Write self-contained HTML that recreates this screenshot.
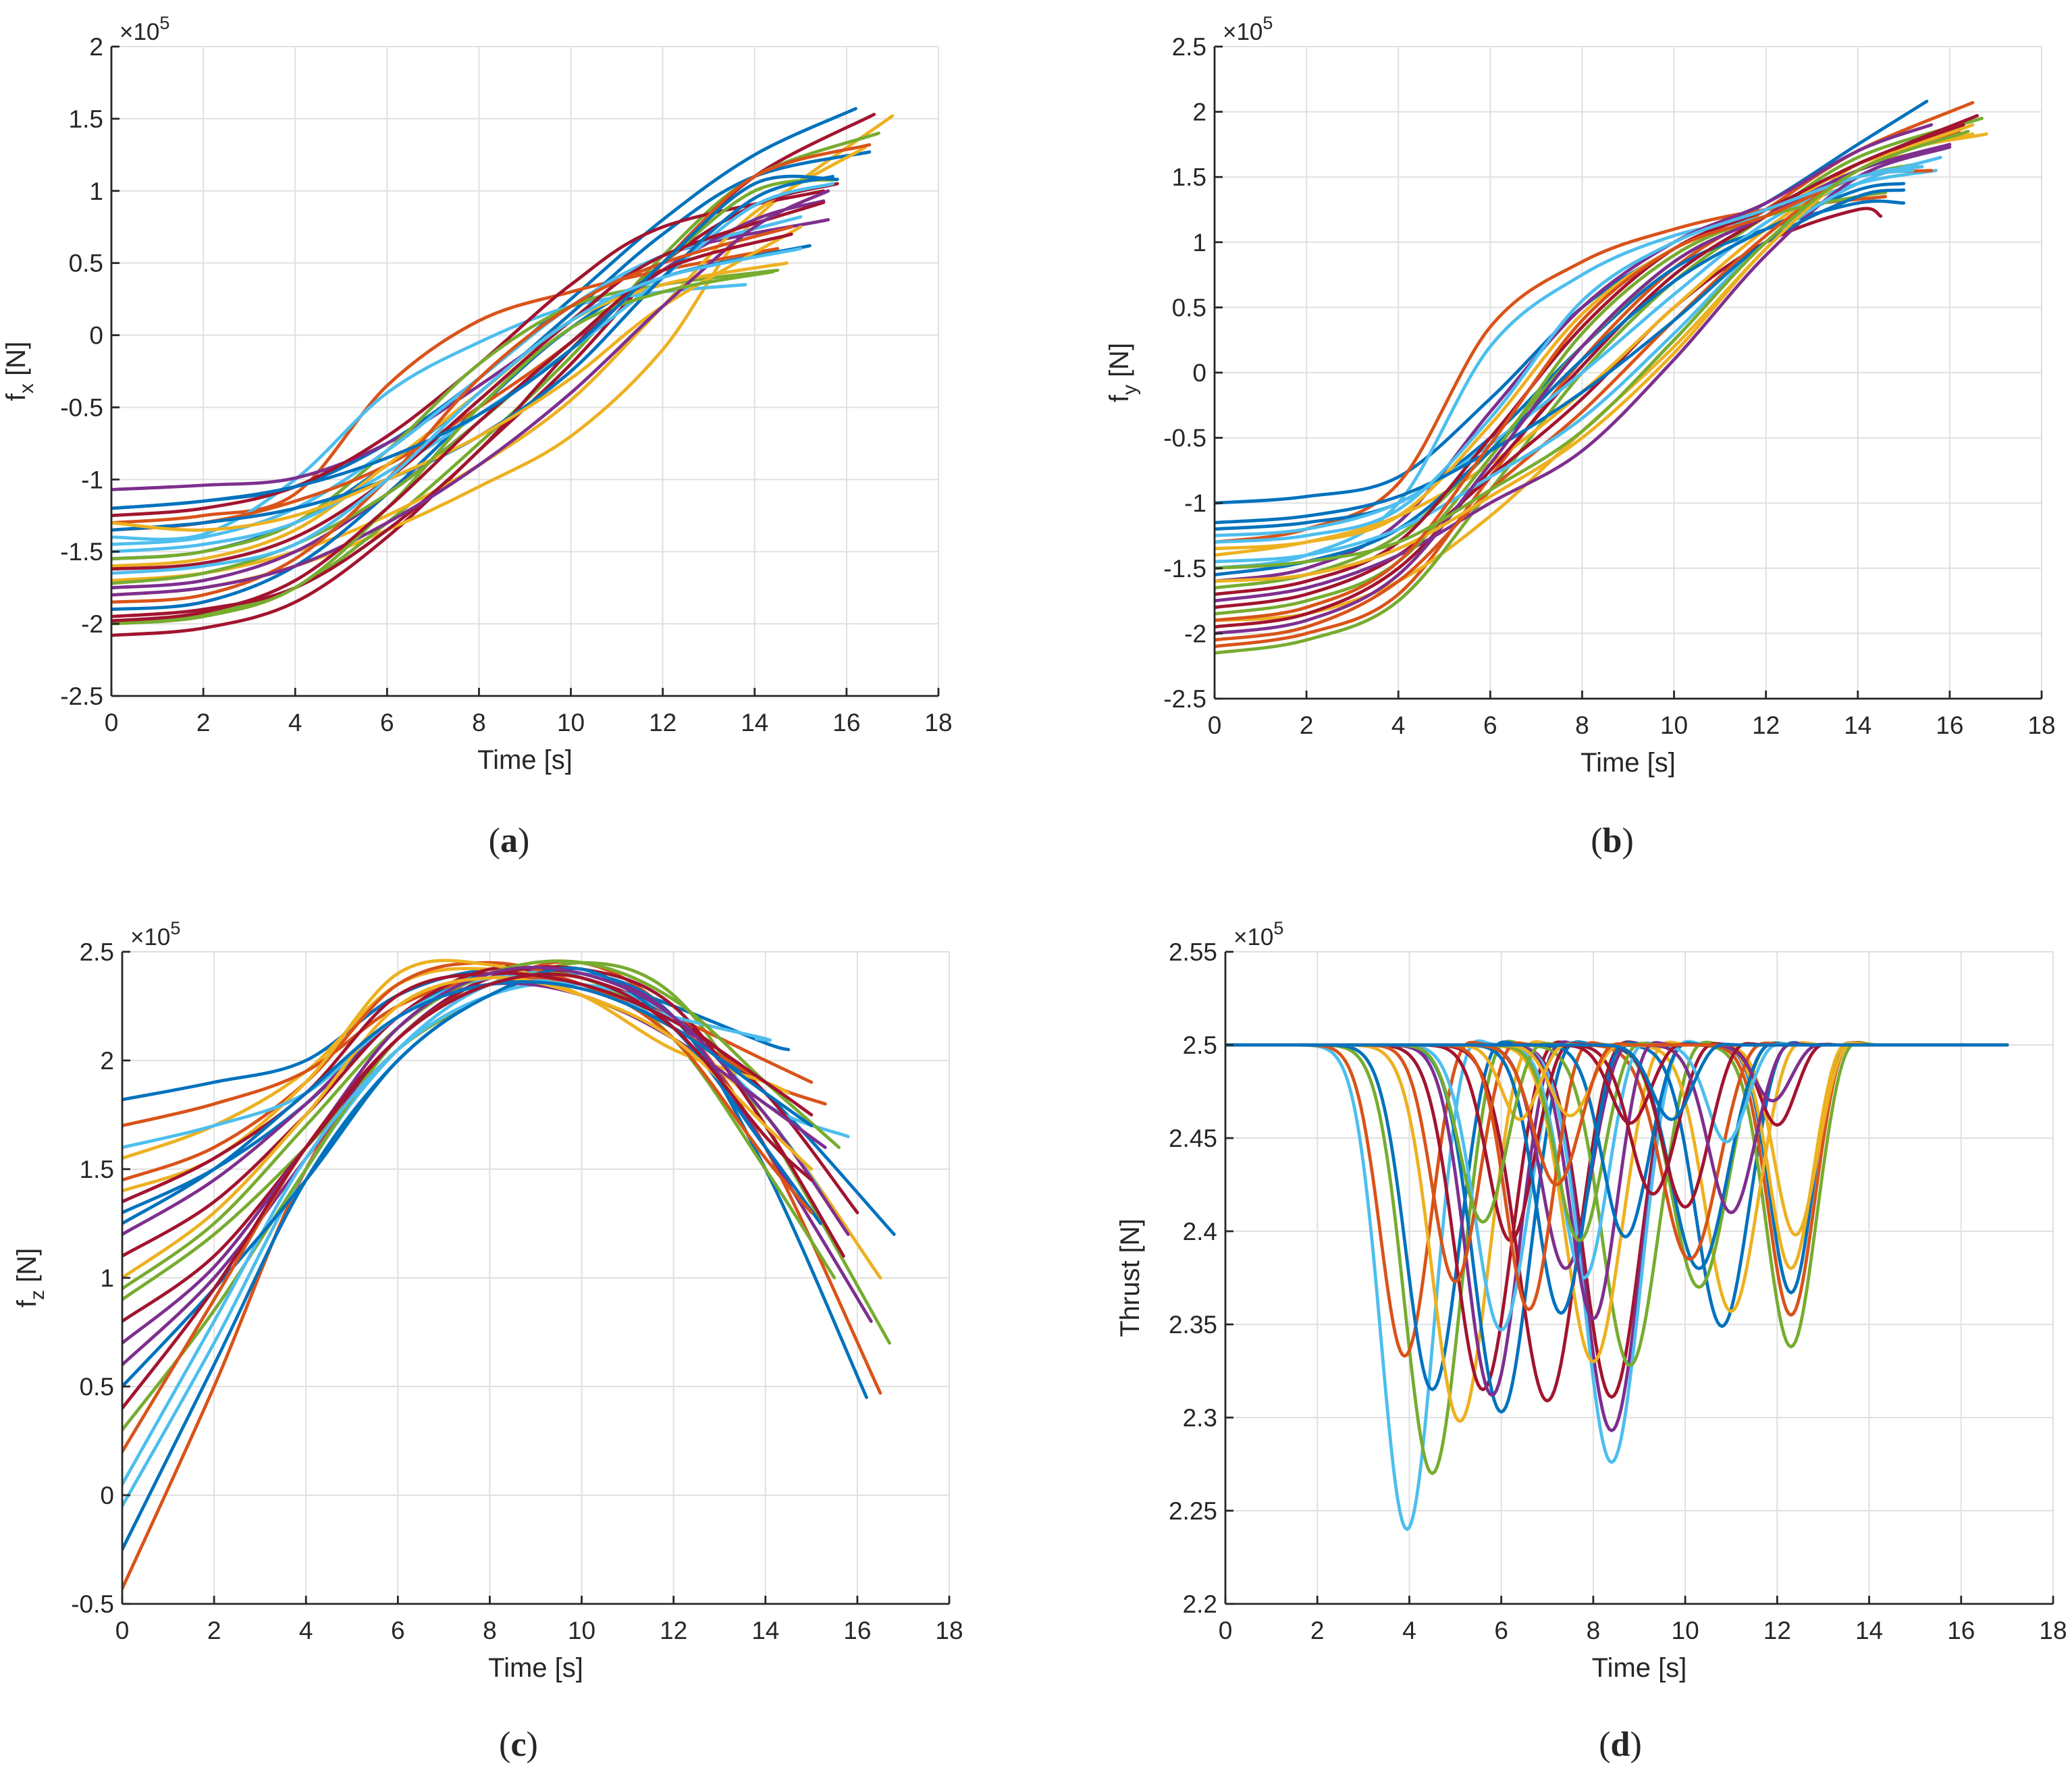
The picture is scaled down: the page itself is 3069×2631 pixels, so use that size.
<!DOCTYPE html>
<html><head><meta charset="utf-8"><style>
html,body{margin:0;padding:0;background:#fff;}
svg{display:block;}
text{font-family:"Liberation Sans",sans-serif;fill:#262626;}
</style></head>
<body>
<svg id="fig" width="3069" height="2631" viewBox="0 0 3069 2631" xmlns="http://www.w3.org/2000/svg"></svg>
<script>
const palette = ['#0072BD','#D95319','#EDB120','#7E2F8E','#77AC30','#4DBEEE','#A2142F'];
const xTicks = [0,2,4,6,8,10,12,14,16,18];

// Panel (a) fx: values (x1e5) at t=0,2,4,..., last value at end time
const fxEnds = [16.2,16.6,17,16.7,14.5,13.8,15.6,16.5,15.5,16.4,14.5,15,15.8,15.2,16.5,15.5,14.7,15.8,15.7,15.5,15.7,14.8,15,15.6,14.4,14.8,15.8,15];
const fxColors = [0,6,2,4,1,5,3,0,6,2,4,5,6,0,1,3,2,4,5,6,0,1,2,3,4,6,0,5];
const fxVals = [
[-1.2,-1.15,-1.05,-0.75,-0.3,0.25,0.8,1.25,1.57],
[-2.08,-2.03,-1.85,-1.4,-0.8,-0.2,0.5,1.1,1.53],
[-1.8,-1.75,-1.6,-1.35,-1.05,-0.7,-0.1,0.8,1.52],
[-1.98,-1.93,-1.75,-1.3,-0.75,-0.15,0.55,1.1,1.4],
[-1.3,-1.25,-1.1,-0.35,0.1,0.3,0.45,0.6],
[-1.4,-1.38,-1.0,-0.4,-0.05,0.2,0.3,0.35],
[-1.07,-1.04,-0.99,-0.75,-0.35,0.1,0.55,0.8],
[-1.55,-1.5,-1.3,-0.9,-0.4,0.15,0.7,1.1,1.27],
[-1.25,-1.2,-1.05,-0.7,-0.2,0.35,0.75,1.0],
[-1.7,-1.65,-1.5,-1.25,-0.9,-0.45,0.2,0.85,1.3],
[-1.55,-1.5,-1.3,-0.8,-0.2,0.2,0.35,0.45],
[-1.45,-1.4,-1.2,-0.8,-0.3,0.2,0.55,0.82],
[-1.95,-1.9,-1.75,-1.35,-0.8,-0.1,0.5,0.9,1.05],
[-1.9,-1.85,-1.6,-1.1,-0.5,0.05,0.4,0.62],
[-1.35,-1.3,-1.15,-0.9,-0.5,-0.05,0.5,1.1,1.32],
[-1.75,-1.7,-1.5,-1.1,-0.6,-0.05,0.45,0.8,0.93],
[-1.6,-1.55,-1.35,-0.9,-0.4,0.1,0.35,0.5],
[-1.72,-1.65,-1.45,-1.1,-0.6,-0.05,0.5,1.0,1.08],
[-1.5,-1.45,-1.3,-0.95,-0.55,-0.1,0.4,0.9,1.05],
[-1.62,-1.58,-1.4,-1.0,-0.45,0.1,0.55,0.92],
[-1.35,-1.3,-1.2,-1.0,-0.7,-0.25,0.4,0.95,1.1],
[-1.85,-1.8,-1.55,-1.0,-0.3,0.2,0.5,0.75],
[-1.3,-1.35,-1.25,-1.0,-0.7,-0.3,0.2,0.75],
[-1.8,-1.75,-1.6,-1.3,-0.9,-0.4,0.2,0.75,1.0],
[-2.0,-1.95,-1.75,-1.2,-0.5,0.05,0.3,0.44],
[-1.98,-1.92,-1.7,-1.2,-0.6,-0.05,0.45,0.7],
[-1.2,-1.15,-1.05,-0.85,-0.55,-0.1,0.5,1.05,1.08],
[-1.65,-1.6,-1.45,-1.0,-0.4,0.1,0.4,0.6]];
const fxTicks = [-2.5,-2,-1.5,-1,-0.5,0,0.5,1,1.5,2];
const fxTickLabels = ['-2.5','-2','-1.5','-1','-0.5','0','0.5','1','1.5','2'];

// Panel (b) fy
const fyEnds = [15.5,16.5,16.8,16.7,14.6,15.7,15.6,15,14.5,15.5,15.3,16.3,15.4,16,15,16.2,16.5,14.6,15.8,16.6,15,16,16.5,15.6,15.2,16.4];
const fyColors = [0,1,2,4,1,5,3,0,6,2,4,6,5,3,0,1,2,4,5,6,0,3,2,1,5,4];
const fyVals = [
[-1.0,-0.95,-0.8,-0.2,0.5,0.95,1.3,1.75,2.08],
[-2.1,-2.0,-1.7,-0.8,0.1,0.8,1.25,1.7,2.07],
[-1.9,-1.85,-1.6,-1.1,-0.45,0.2,0.95,1.6,1.83],
[-2.15,-2.05,-1.75,-0.9,0.0,0.7,1.2,1.65,1.95],
[-1.3,-1.2,-0.85,0.35,0.85,1.1,1.25,1.35],
[-1.5,-1.4,-1.0,0.2,0.75,1.05,1.2,1.45,1.55],
[-1.6,-1.5,-1.15,-0.3,0.5,1.0,1.3,1.7,1.9],
[-1.2,-1.15,-1.0,-0.5,0.2,0.8,1.1,1.3,1.3],
[-1.8,-1.7,-1.4,-0.8,-0.2,0.5,1.0,1.25,1.2],
[-1.4,-1.3,-1.1,-0.7,-0.15,0.5,1.1,1.55,1.7],
[-1.65,-1.55,-1.25,-0.6,0.2,0.85,1.2,1.5,1.6],
[-1.95,-1.85,-1.5,-0.75,0.05,0.75,1.2,1.6,1.9],
[-1.25,-1.2,-1.0,-0.55,0.0,0.6,1.15,1.5,1.58],
[-1.75,-1.65,-1.4,-1.0,-0.6,0.1,0.9,1.5,1.73],
[-1.55,-1.45,-1.2,-0.6,0.1,0.7,1.1,1.4,1.45],
[-2.05,-1.95,-1.6,-0.9,-0.3,0.4,1.05,1.55,1.85],
[-1.35,-1.3,-1.1,-0.4,0.45,0.95,1.2,1.6,1.83],
[-1.85,-1.75,-1.45,-0.65,0.3,0.9,1.2,1.35,1.38],
[-1.45,-1.4,-1.2,-0.8,-0.35,0.3,1.0,1.45,1.65],
[-1.7,-1.6,-1.3,-0.5,0.35,0.95,1.25,1.6,1.97],
[-1.15,-1.1,-0.95,-0.6,-0.15,0.4,1.0,1.35,1.4],
[-2.0,-1.9,-1.55,-0.7,0.2,0.85,1.2,1.55,1.75],
[-1.6,-1.55,-1.35,-0.95,-0.5,0.15,0.95,1.55,1.9],
[-1.9,-1.8,-1.45,-0.55,0.4,0.95,1.2,1.5,1.55],
[-1.3,-1.25,-1.05,-0.35,0.55,1.0,1.25,1.5,1.55],
[-1.5,-1.45,-1.3,-0.9,-0.45,0.25,1.0,1.55,1.85]];
const fyTicks = [-2.5,-2,-1.5,-1,-0.5,0,0.5,1,1.5,2,2.5];
const fyTickLabels = ['-2.5','-2','-1.5','-1','-0.5','0','0.5','1','1.5','2','2.5'];

// Panel (c) fz
const fzEnds = [14.5,16.5,16.5,16.7,16.2,16.8,16.3,15,15.8,16,15.5,15.3,15.2,14.5,15.7,15.3,15.2,13.8,15.6,15,15,15.8,15,15,15];
const fzColors = [0,1,2,4,0,0,3,1,5,6,4,1,5,2,6,3,0,5,4,1,6,3,2,0,6];
const fzVals = [
[1.82,1.9,2.0,2.3,2.42,2.4,2.25,2.08,2.05],
[-0.43,0.5,1.5,2.1,2.35,2.45,2.2,1.6,0.47],
[1.55,1.7,1.95,2.35,2.42,2.3,2.1,1.75,1.0],
[0.9,1.2,1.6,2.05,2.3,2.45,2.3,1.7,0.7],
[-0.25,0.6,1.45,2.0,2.3,2.4,2.2,1.5,0.45],
[1.3,1.5,1.8,2.2,2.4,2.35,2.15,1.85,1.2],
[0.6,1.0,1.55,2.1,2.38,2.4,2.2,1.6,0.8],
[1.7,1.8,1.95,2.25,2.38,2.35,2.2,2.0,1.9],
[-0.05,0.7,1.5,2.05,2.35,2.4,2.2,1.8,1.65],
[1.1,1.35,1.75,2.2,2.42,2.38,2.2,1.85,1.3],
[0.3,0.85,1.5,2.1,2.35,2.38,2.1,1.5,1.0],
[1.45,1.6,1.9,2.35,2.45,2.35,2.15,1.9,1.8],
[0.05,0.8,1.55,2.05,2.3,2.35,2.2,1.75,1.4],
[1.4,1.55,1.9,2.4,2.44,2.3,2.05,1.9,1.85],
[0.8,1.1,1.6,2.1,2.38,2.42,2.25,1.7,1.1],
[1.2,1.45,1.8,2.2,2.35,2.3,2.1,1.8,1.6],
[0.5,0.95,1.45,2.0,2.3,2.42,2.15,1.6,1.25],
[1.6,1.7,1.85,2.2,2.38,2.33,2.2,2.1,2.1],
[0.95,1.25,1.7,2.15,2.4,2.45,2.28,1.9,1.6],
[0.2,0.9,1.6,2.1,2.35,2.35,2.1,1.55,1.3],
[1.35,1.55,1.85,2.3,2.4,2.35,2.18,1.9,1.75],
[0.7,1.05,1.6,2.15,2.4,2.4,2.2,1.75,1.2],
[1.0,1.3,1.75,2.25,2.38,2.3,2.1,1.7,1.5],
[1.25,1.5,1.85,2.2,2.35,2.33,2.15,1.85,1.7],
[0.4,0.95,1.6,2.1,2.35,2.38,2.15,1.65,1.45]];
const fzTicks = [-0.5,0,0.5,1,1.5,2,2.5];
const fzTickLabels = ['-0.5','0','0.5','1','1.5','2','2.5'];

// Panel (d) thrust: one dip per curve — center time, minimum (x1e5), half-width
const dipCenters = [3.95,4.5,3.9,4.5,5.1,5.6,6.0,5.8,7.0,8.4,8.4,8.4,8.8,8.0,10.8,12.3,12.3,12.3,12.3,12.4,11.0,10.3,10.3,10.1,12.0,11.9,6.0,5.0,6.2,7.4,7.8,7.3,8.0,6.6,7.7,8.7,9.3,10.9,10.0,11.0,6.4,5.6,7.5,8.8,7.2,9.7];
const dipMins = [2.24,2.27,2.333,2.315,2.298,2.315,2.303,2.312,2.309,2.311,2.293,2.276,2.328,2.33,2.349,2.338,2.355,2.367,2.38,2.398,2.357,2.37,2.38,2.385,2.457,2.47,2.347,2.373,2.395,2.38,2.375,2.356,2.353,2.358,2.395,2.397,2.42,2.448,2.413,2.41,2.46,2.405,2.462,2.458,2.425,2.46];
const dipWidths = [0.8,0.85,0.75,0.8,0.85,0.85,0.85,0.8,0.9,0.85,0.85,0.85,0.85,0.85,0.8,0.75,0.7,0.65,0.65,0.65,0.8,0.85,0.85,0.85,0.55,0.55,0.8,0.7,0.7,0.75,0.7,0.75,0.7,0.7,0.7,0.7,0.7,0.6,0.7,0.7,0.55,0.7,0.6,0.6,0.7,0.6];
const dipColors = [5,4,1,0,2,6,0,3,6,6,3,5,4,2,0,4,1,0,2,2,2,4,0,1,6,3,5,1,6,3,5,0,3,1,4,0,6,5,6,3,2,4,2,6,1,0];
const thrustBase = 2.5;
const thrustEnd = 17;
const thTicks = [2.2,2.25,2.3,2.35,2.4,2.45,2.5,2.55];
const thTickLabels = ['2.2','2.25','2.3','2.35','2.4','2.45','2.5','2.55'];

const NS = 'http://www.w3.org/2000/svg';
const svg = document.getElementById('fig');
function el(tag, attrs, parent){
  const e = document.createElementNS(NS, tag);
  for (const k in attrs) e.setAttribute(k, attrs[k]);
  (parent||svg).appendChild(e);
  return e;
}
function smoothPath(pts){
  let d = 'M' + pts[0][0].toFixed(1) + ',' + pts[0][1].toFixed(1);
  for (let i=0;i<pts.length-1;i++){
    const p0 = pts[Math.max(0,i-1)], p1 = pts[i], p2 = pts[i+1], p3 = pts[Math.min(pts.length-1,i+2)];
    const c1 = [p1[0]+(p2[0]-p0[0])/6, p1[1]+(p2[1]-p0[1])/6];
    const c2 = [p2[0]-(p3[0]-p1[0])/6, p2[1]-(p3[1]-p1[1])/6];
    d += 'C'+c1[0].toFixed(1)+','+c1[1].toFixed(1)+' '+c2[0].toFixed(1)+','+c2[1].toFixed(1)+' '+p2[0].toFixed(1)+','+p2[1].toFixed(1);
  }
  return d;
}

function makeAxes(id, box, ymin, ymax, yTicks, yLabels, ylabelText, ysub, panelLetter, letterPos){
  const g = el('g', {});
  
  
  const sx = t => box.x0 + (t-0)/(18-0)*(box.x1-box.x0);
  const sy = v => box.y1 - (v-ymin)/(ymax-ymin)*(box.y1-box.y0);
  const grid = el('g', {stroke:'#e0e0e0','stroke-width':2}, g);
  
  
  xTicks.forEach(t => el('line', {x1:sx(t),x2:sx(t),y1:box.y0,y2:box.y1}, grid));
  yTicks.forEach(v => el('line', {x1:box.x0,x2:box.x1,y1:sy(v),y2:sy(v)}, grid));
  const cp = el('clipPath', {id:id+'-clip'}, g);
  el('rect', {x:box.x0,y:box.y0,width:box.x1-box.x0,height:box.y1-box.y0}, cp);
  const lines = el('g', {'clip-path':'url(#'+id+'-clip)', fill:'none','stroke-width':4.8,'stroke-linejoin':'round','stroke-linecap':'round'}, g);
  
  
  const ax = el('g', {stroke:'#262626','stroke-width':2.8}, g);
  
  
  el('line', {x1:box.x0,x2:box.x1,y1:box.y1,y2:box.y1}, ax);
  el('line', {x1:box.x0,x2:box.x0,y1:box.y0,y2:box.y1}, ax);
  xTicks.forEach(t => el('line', {x1:sx(t),x2:sx(t),y1:box.y1,y2:box.y1-12}, ax));
  yTicks.forEach(v => el('line', {x1:box.x0,x2:box.x0+12,y1:sy(v),y2:sy(v)}, ax));
  xTicks.forEach(t => {
    const tx = el('text', {x:sx(t), y:box.y1+52, 'font-size':37, 'text-anchor':'middle'}, g);
    tx.textContent = String(t);
    
    
  });
  yTicks.forEach((v,i) => {
    const tx = el('text', {x:box.x0-12, y:sy(v)+13, 'font-size':37, 'text-anchor':'end'}, g);
    tx.textContent = yLabels[i];
    
    
  });
  const ex = el('text', {x:box.x0+12, y:box.y0-10, 'font-size':35}, g);
  ex.innerHTML = '<tspan>\u00d7</tspan><tspan>10</tspan><tspan dy="-16" font-size="27">5</tspan>';
  
  
  const xl = el('text', {x:(box.x0+box.x1)/2, y:box.y1+108, 'font-size':40, 'text-anchor':'middle'}, g);
  xl.textContent = 'Time [s]';
  
  
  const cy = (box.y0+box.y1)/2;
  const yl = el('text', {x:0, y:0, 'font-size':40, 'text-anchor':'middle', transform:'translate('+(box.x0-128)+','+cy+') rotate(-90)'}, g);
  if (ysub) yl.innerHTML = '<tspan>'+ylabelText+'</tspan><tspan dy="12" font-size="30">'+ysub+'</tspan><tspan dy="-12"> [N]</tspan>';
  else yl.textContent = ylabelText;
  
  
  const pl = el('text', {x:letterPos[0], y:letterPos[1], 'font-size':52, 'text-anchor':'middle', style:'font-family:"Liberation Serif",serif'}, svg);
  pl.innerHTML = '(<tspan font-weight="bold">'+panelLetter+'</tspan>)';
  
  
  return {sx, sy, lines};
}

function drawSampled(ax, vals, ends, colors, name){
  vals.forEach((v, i) => {
    const pts = v.map((y, k) => [ax.sx(k === v.length-1 ? ends[i] : 2*k), ax.sy(y)]);
    const p = el('path', {d:smoothPath(pts), stroke:palette[colors[i]]}, ax.lines);
    
    
  });
}

const A = makeAxes('fx', {x0:165,x1:1390,y0:69,y1:1031}, -2.5, 2, fxTicks, fxTickLabels, 'f', 'x', 'a', [754,1262]);
drawSampled(A, fxVals, fxEnds, fxColors, 'fx');
const B = makeAxes('fy', {x0:1799,x1:3024,y0:69,y1:1035}, -2.5, 2.5, fyTicks, fyTickLabels, 'f', 'y', 'b', [2388,1262]);
drawSampled(B, fyVals, fyEnds, fyColors, 'fy');
const C = makeAxes('fz', {x0:181,x1:1406,y0:1410,y1:2376}, -0.5, 2.5, fzTicks, fzTickLabels, 'f', 'z', 'c', [768,2601]);
drawSampled(C, fzVals, fzEnds, fzColors, 'fz');
const D = makeAxes('thrust', {x0:1815,x1:3041,y0:1410,y1:2376}, 2.2, 2.55, thTicks, thTickLabels, 'Thrust [N]', null, 'd', [2400,2601]);

dipCenters.forEach((c, i) => {
  const depth = thrustBase - dipMins[i];
  const w = dipWidths[i];
  const pts = [];
  for (let t = 0; t <= thrustEnd + 1e-9; t += 0.05) {
    const z = (t - c) / w;
    const zo = (t - c - 1.6*w) / (0.5*w);
    const v = thrustBase - depth*Math.exp(-z*z) + 0.05*depth*Math.exp(-zo*zo);
    pts.push((pts.length?'L':'M') + D.sx(t).toFixed(1) + ',' + D.sy(v).toFixed(1));
  }
  const p = el('path', {d:pts.join(''), stroke:palette[dipColors[i]]}, D.lines);
  
  
});
</script>
</body></html>
